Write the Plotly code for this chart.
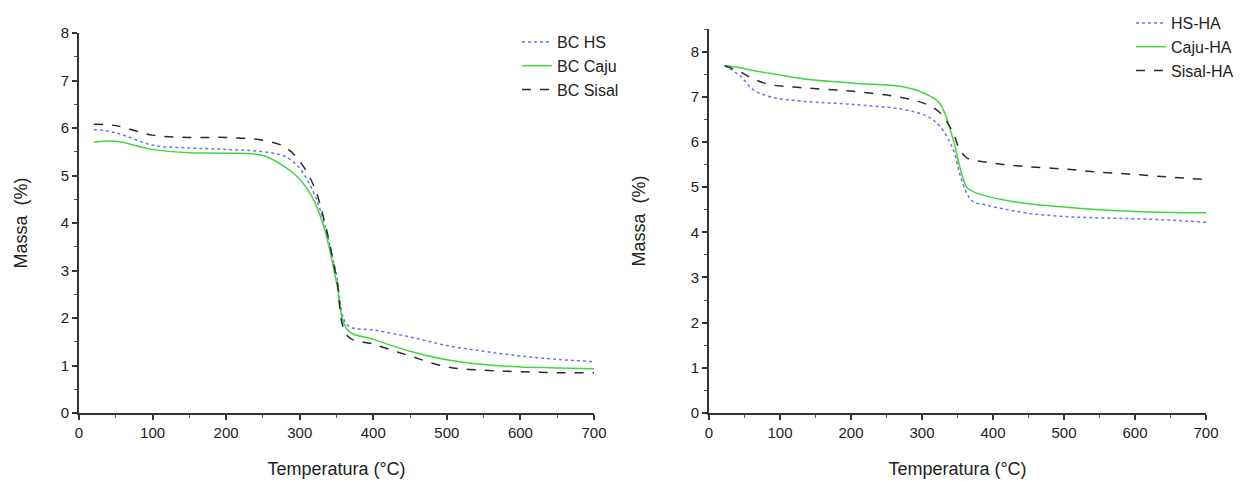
import plotly.graph_objects as go

# ---- Left panel data (BC) ----
t_left = [20, 50, 100, 150, 200, 250, 280, 300, 320, 335, 350, 365, 400, 450, 500, 550, 600, 650, 700]
bc_hs = [5.97, 5.90, 5.64, 5.58, 5.55, 5.50, 5.40, 5.15, 4.60, 3.90, 2.90, 1.85, 1.75, 1.60, 1.42, 1.30, 1.20, 1.13, 1.08]
bc_caju = [5.70, 5.72, 5.55, 5.48, 5.47, 5.42, 5.18, 4.92, 4.45, 3.80, 2.75, 1.75, 1.55, 1.30, 1.12, 1.02, 0.97, 0.95, 0.93]
bc_sisal = [6.08, 6.05, 5.85, 5.80, 5.80, 5.74, 5.60, 5.30, 4.75, 3.95, 2.85, 1.62, 1.45, 1.20, 0.97, 0.90, 0.87, 0.85, 0.85]

# ---- Right panel data (HA) ----
t_right = [22, 44, 62, 86, 132, 203, 273, 307, 325, 344, 353, 363, 372, 391, 414, 450, 500, 550, 600, 650, 700]
hs_ha = [7.69, 7.46, 7.16, 7.00, 6.90, 6.83, 6.72, 6.57, 6.35, 5.83, 5.30, 4.87, 4.68, 4.60, 4.52, 4.42, 4.35, 4.32, 4.30, 4.27, 4.22]
caju_ha = [7.69, 7.64, 7.58, 7.52, 7.40, 7.30, 7.22, 7.05, 6.85, 6.05, 5.46, 5.00, 4.90, 4.80, 4.72, 4.63, 4.56, 4.50, 4.46, 4.44, 4.43]
sisal_ha = [7.69, 7.55, 7.40, 7.27, 7.20, 7.12, 6.98, 6.83, 6.65, 6.20, 5.83, 5.65, 5.60, 5.55, 5.50, 5.45, 5.40, 5.33, 5.28, 5.22, 5.17]

x_ticks = [0, 100, 200, 300, 400, 500, 600, 700]

BLUE = "#6f6ff0"
GREEN = "#3fd83f"
BLACK = "#2a2a2a"

fig = go.Figure()

fig.add_trace(go.Scatter(x=t_left, y=bc_hs, name="BC HS", mode="lines", line_shape="spline",
                         line=dict(color=BLUE, width=1.5, dash="dot"), xaxis="x", yaxis="y", legend="legend"))
fig.add_trace(go.Scatter(x=t_left, y=bc_caju, name="BC Caju", mode="lines", line_shape="spline",
                         line=dict(color=GREEN, width=1.5), xaxis="x", yaxis="y", legend="legend"))
fig.add_trace(go.Scatter(x=t_left, y=bc_sisal, name="BC Sisal", mode="lines", line_shape="spline",
                         line=dict(color=BLACK, width=1.5, dash="dash"), xaxis="x", yaxis="y", legend="legend"))

fig.add_trace(go.Scatter(x=t_right, y=hs_ha, name="HS-HA", mode="lines", line_shape="spline",
                         line=dict(color=BLUE, width=1.5, dash="dot"), xaxis="x2", yaxis="y2", legend="legend2"))
fig.add_trace(go.Scatter(x=t_right, y=caju_ha, name="Caju-HA", mode="lines", line_shape="spline",
                         line=dict(color=GREEN, width=1.5), xaxis="x2", yaxis="y2", legend="legend2"))
fig.add_trace(go.Scatter(x=t_right, y=sisal_ha, name="Sisal-HA", mode="lines", line_shape="spline",
                         line=dict(color=BLACK, width=1.5, dash="dash"), xaxis="x2", yaxis="y2", legend="legend2"))

W, H = 1253, 481
OFF = 8  # default page body margin


def fx(px):
    return (px - OFF) / W


def fy(px):
    return 1 - (px - OFF) / H


font = dict(family="Liberation Sans, Arial, sans-serif", size=15, color="#222")

axis_common = dict(showline=True, linecolor="#333", linewidth=2, ticks="outside", ticklen=5,
                   tickwidth=1.5, tickcolor="#333", showgrid=False, zeroline=False, automargin=False,
                   tickfont=dict(size=15, color="#222"),
                   minor=dict(ticks="outside", ticklen=3, tickcolor="#555", tickwidth=1))

fig.update_layout(
    width=W, height=H,
    margin=dict(l=0, r=0, t=0, b=0, autoexpand=False),
    paper_bgcolor="white", plot_bgcolor="white",
    font=font,
    xaxis=dict(domain=[fx(79), fx(594)], range=[0, 700], tickvals=x_ticks, anchor="y",
               minor_dtick=50, title=dict(text="Temperatura (°C)", standoff=22), **axis_common),
    yaxis=dict(domain=[fy(413), fy(33)], range=[0, 8], dtick=1, anchor="x",
               minor_dtick=0.5, title=dict(text="Massa  (%)", standoff=28), **axis_common),
    xaxis2=dict(domain=[fx(709), fx(1206)], range=[0, 700], tickvals=x_ticks, anchor="y2",
                minor_dtick=50, title=dict(text="Temperatura (°C)", standoff=22), **axis_common),
    yaxis2=dict(domain=[fy(413), fy(29)], range=[0, 8.5], tickvals=list(range(0, 9)), anchor="x2",
                minor_dtick=0.5, title=dict(text="Massa  (%)", standoff=40), **axis_common),
    legend=dict(x=fx(517), y=fy(25), xanchor="left", yanchor="top", bgcolor="rgba(0,0,0,0)",
                font=dict(size=16, color="#222"), itemwidth=30, tracegroupgap=0),
    legend2=dict(x=fx(1131), y=fy(6), xanchor="left", yanchor="top", bgcolor="rgba(0,0,0,0)",
                 font=dict(size=16, color="#222"), itemwidth=30, tracegroupgap=0),
)

fig.write_html("out.html")
